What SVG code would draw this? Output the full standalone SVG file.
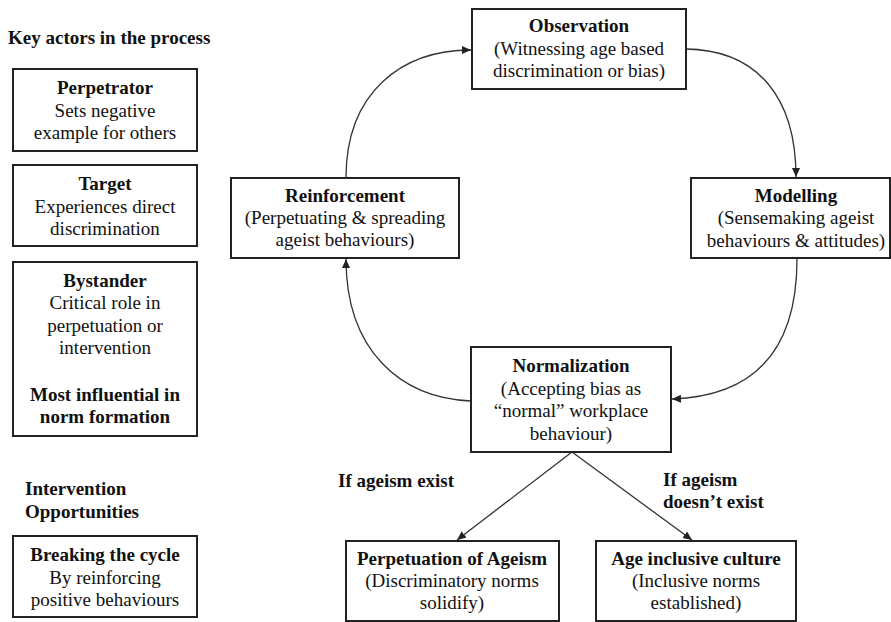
<svg xmlns="http://www.w3.org/2000/svg" width="891" height="622" viewBox="0 0 891 622">
<defs>
<style>
text{font-family:"Liberation Serif","Times New Roman",serif;font-size:19px;fill:#111}
.b{font-weight:bold}
.c{text-anchor:middle}
.box{fill:#fff;stroke:#222;stroke-width:2}
.con{fill:none;stroke:#333;stroke-width:1.3}
</style>
<marker id="ah" markerUnits="userSpaceOnUse" markerWidth="10" markerHeight="10" refX="9" refY="4" orient="auto">
<path d="M0,0 L9,4 L0,8 z" fill="#222"/>
</marker>
</defs>
<rect width="891" height="622" fill="#fff"/>

<text id="title-actors" class="b" x="8" y="44">Key actors in the process</text>

<g id="perpetrator">
<rect class="box" x="13" y="69" width="184" height="82"/>
<text class="b c" x="105" y="94">Perpetrator</text>
<text class="c" x="105" y="117">Sets negative</text>
<text class="c" x="105" y="139">example for others</text>
</g>

<g id="target">
<rect class="box" x="13" y="165" width="184" height="81"/>
<text class="b c" x="105" y="190">Target</text>
<text class="c" x="105" y="213">Experiences direct</text>
<text class="c" x="105" y="235">discrimination</text>
</g>

<g id="bystander">
<rect class="box" x="13" y="262" width="184" height="174"/>
<text class="b c" x="105" y="287">Bystander</text>
<text class="c" x="105" y="309">Critical role in</text>
<text class="c" x="105" y="332">perpetuation or</text>
<text class="c" x="105" y="354">intervention</text>
<text class="b c" x="105" y="401">Most influential in</text>
<text class="b c" x="105" y="423">norm formation</text>
</g>

<text id="title-intervention" class="b" x="25" y="495">Intervention</text>
<text class="b" x="25" y="518">Opportunities</text>

<g id="breaking">
<rect class="box" x="13" y="536" width="184" height="81"/>
<text class="b c" x="105" y="561">Breaking the cycle</text>
<text class="c" x="105" y="584">By reinforcing</text>
<text class="c" x="105" y="606">positive behaviours</text>
</g>

<g id="connectors">
<path class="con" d="M346,178 C346,92 402,50 471,50" marker-end="url(#ah)"/>
<path class="con" d="M686,49 C758,50 796,98 796,177" marker-end="url(#ah)"/>
<path class="con" d="M797,259 C797,345 760,396 672,399" marker-end="url(#ah)"/>
<path class="con" d="M471,401 C400,398 346,350 346,259" marker-end="url(#ah)"/>
<path class="con" d="M572,452 L457,540" marker-end="url(#ah)"/>
<path class="con" d="M572,452 L692,540" marker-end="url(#ah)"/>
</g>

<g id="observation">
<rect class="box" x="472" y="9" width="214" height="80"/>
<text class="b c" x="579" y="32">Observation</text>
<text class="c" x="579" y="55">(Witnessing age based</text>
<text class="c" x="579" y="77">discrimination or bias)</text>
</g>

<g id="reinforcement">
<rect class="box" x="231" y="178" width="228" height="80"/>
<text class="b c" x="345" y="202">Reinforcement</text>
<text class="c" x="345" y="224">(Perpetuating &amp; spreading</text>
<text class="c" x="345" y="246">ageist behaviours)</text>
</g>

<g id="modelling">
<rect class="box" x="691" y="178" width="199" height="80"/>
<text class="b c" x="796" y="202">Modelling</text>
<text class="c" x="796" y="224">(Sensemaking ageist</text>
<text class="c" x="796" y="247">behaviours &amp; attitudes)</text>
</g>

<g id="normalization">
<rect class="box" x="471" y="347" width="200" height="105"/>
<text class="b c" x="571" y="372">Normalization</text>
<text class="c" x="571" y="395">(Accepting bias as</text>
<text class="c" x="571" y="417">“normal” workplace</text>
<text class="c" x="571" y="440">behaviour)</text>
</g>

<text id="label-exist" class="b" x="338" y="487">If ageism exist</text>
<text id="label-notexist" class="b" x="663" y="486">If ageism</text>
<text class="b" x="663" y="508">doesn’t exist</text>

<g id="perpetuation">
<rect class="box" x="346" y="541" width="213" height="80"/>
<text class="b c" x="452" y="565">Perpetuation of Ageism</text>
<text class="c" x="452" y="587">(Discriminatory norms</text>
<text class="c" x="452" y="609">solidify)</text>
</g>

<g id="inclusive">
<rect class="box" x="596" y="541" width="200" height="80"/>
<text class="b c" x="696" y="565">Age inclusive culture</text>
<text class="c" x="696" y="587">(Inclusive norms</text>
<text class="c" x="696" y="609">established)</text>
</g>
</svg>
